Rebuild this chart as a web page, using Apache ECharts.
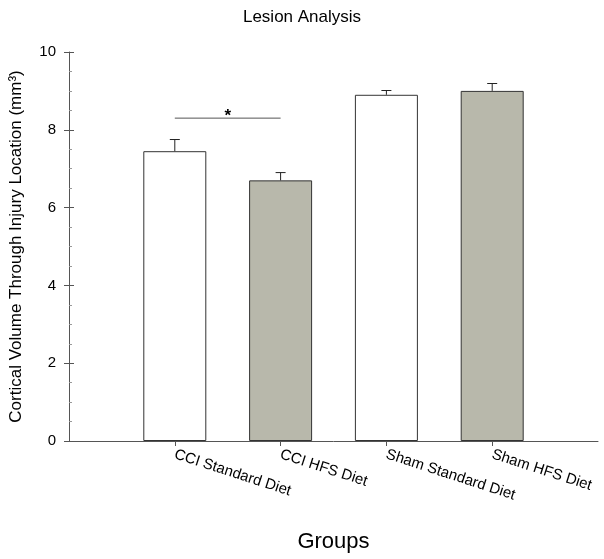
<!DOCTYPE html>
<html><head><meta charset="utf-8">
<script src="https://cdn.jsdelivr.net/npm/echarts@6/dist/echarts.min.js"></script>
<style>html,body{margin:0;padding:0;background:#fff}#c{width:604px;height:559px}</style>
</head><body><div id="c"></div>
<script>
// categories (blank slots pad both ends of the axis)
const categories = ['', 'CCI Standard Diet', 'CCI HFS Diet', 'Sham Standard Diet', 'Sham HFS Diet', ''];
const means = [null, 7.45, 6.70, 8.90, 9.00, null];
const errors = [null, 0.30, 0.20, 0.11, 0.19, null];
const fills = ['#ffffff', '#ffffff', '#b8b8ab', '#ffffff', '#b8b8ab', '#ffffff'];
const yTicks = [0, 2, 4, 6, 8, 10];
// significance bracket: from category index, to category index, height, label
const sigFrom = [1];
const sigTo = [2];
const sigY = [8.3];
const sigLabel = ['*'];

const FONT = 'Liberation Sans, Arial, sans-serif';
const chart = echarts.init(document.getElementById('c'), null, {renderer: 'canvas'});

const barData = means.map((v, i) => v == null ? '-' : {value: v, itemStyle: {color: fills[i]}});
const errData = means.map((v, i) => v == null ? null : [i, v, errors[i]]).filter(d => d);
const sigData = sigFrom.map((f, i) => [f, sigTo[i], sigY[i], sigLabel[i]]);

chart.setOption({
  animation: false,
  backgroundColor: '#fff',
  title: {text: 'Lesion Analysis', left: 'center', top: 4,
    textStyle: {fontFamily: FONT, fontSize: 17, fontWeight: 'normal', color: '#000'}},
  grid: {left: 69, right: 6, top: 52, bottom: 118},
  xAxis: {
    type: 'category', data: categories, boundaryGap: false,
    name: 'Groups', nameLocation: 'middle', nameGap: 90,
    nameTextStyle: {fontFamily: FONT, fontSize: 22, color: '#000'},
    axisLine: {lineStyle: {color: '#555', width: 1}},
    axisTick: {length: 5, lineStyle: {color: '#555'}, interval: (i) => i > 0 && i < categories.length - 1},
    axisLabel: {interval: 0, rotate: -18, margin: 13, fontFamily: FONT, fontSize: 15, color: '#000'},
    splitLine: {show: false}
  },
  yAxis: [{
    type: 'value', min: 0, max: 10, interval: 2,
    name: 'Cortical Volume Through Injury Location (mm³)', nameLocation: 'middle', nameGap: 44,
    nameTextStyle: {fontFamily: FONT, fontSize: 17, color: '#000'},
    axisLine: {show: true, lineStyle: {color: '#555'}},
    axisTick: {show: true, length: 5, lineStyle: {color: '#555'}},
    axisLabel: {fontFamily: FONT, fontSize: 15, color: '#000', margin: 13,
      formatter: (v) => yTicks.includes(v) ? String(v) : ''},
    splitLine: {show: false}
  }, {
    type: 'value', min: 0, max: 10, interval: 2, position: 'left',
    axisLine: {show: false},
    axisTick: {show: true, inside: true, length: 5, lineStyle: {color: '#555'}},
    minorTick: {show: true, splitNumber: 4, length: 3, lineStyle: {color: '#999'}},
    axisLabel: {show: false}, splitLine: {show: false}
  }],
  series: [{
    type: 'bar', data: barData, barWidth: 63,
    itemStyle: {borderColor: '#333', borderWidth: 1}, z: 2
  }, {
    type: 'custom', data: errData, z: 3,
    renderItem: (params, api) => {
      const x = api.value(0), v = api.value(1), e = api.value(2);
      const p0 = api.coord([x, v]);
      const p1 = api.coord([x, v + e]);
      const st = {stroke: '#222', lineWidth: 1};
      return {type: 'group', children: [
        {type: 'line', shape: {x1: p0[0], y1: p0[1], x2: p1[0], y2: p1[1]}, style: st},
        {type: 'line', shape: {x1: p1[0] - 5, y1: p1[1], x2: p1[0] + 5, y2: p1[1]}, style: st}
      ]};
    }
  }, {
    type: 'custom', data: sigData, z: 3,
    renderItem: (params, api) => {
      const a = api.coord([api.value(0), api.value(2)]);
      const b = api.coord([api.value(1), api.value(2)]);
      return {type: 'group', children: [
        {type: 'line', shape: {x1: a[0], y1: a[1], x2: b[0], y2: b[1]}, style: {stroke: '#555', lineWidth: 1}},
        {type: 'text', x: (a[0] + b[0]) / 2, y: a[1] - 2,
          style: {text: sigData[params.dataIndex][3], fontFamily: FONT, fontSize: 17, fontWeight: 'bold',
            fill: '#000', align: 'center', verticalAlign: 'middle'}}
      ]};
    }
  }]
});
</script></body></html>
